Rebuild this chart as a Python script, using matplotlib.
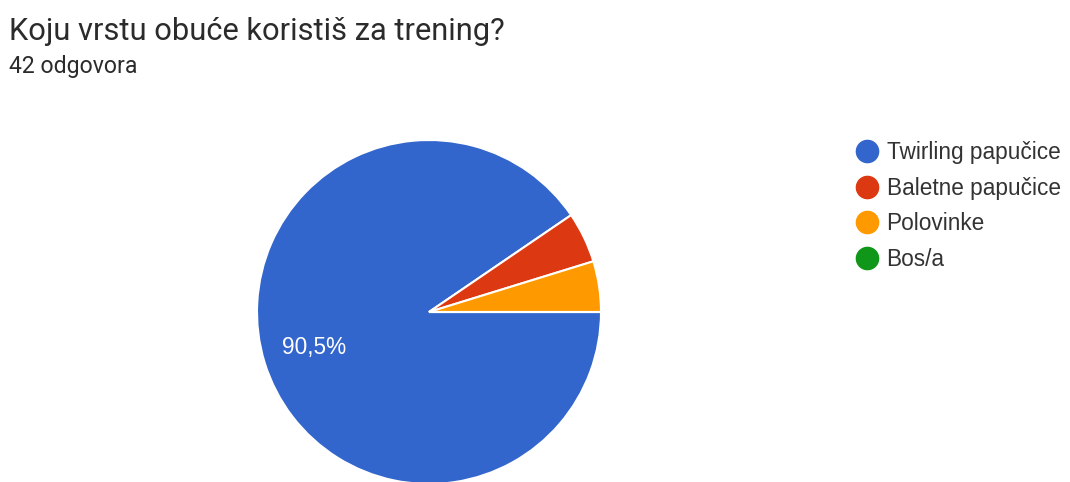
import matplotlib
matplotlib.use("Agg")
import matplotlib.pyplot as plt
from matplotlib.lines import Line2D

categories = ["Twirling papučice", "Baletne papučice", "Polovinke", "Bos/a"]
counts = [38, 2, 2, 0]
colors = ["#3366CC", "#DC3912", "#FF9900", "#109618"]
title = "Koju vrstu obuće koristiš za trening?"
subtitle = "42 odgovora"

plt.rcParams['font.family'] = ['Roboto', 'DejaVu Sans']

W, H = 1070, 482
fig = plt.figure(figsize=(W / 100, H / 100), dpi=100)
fig.patch.set_facecolor("white")

cx, cy, r = 429, 312, 172
ax = fig.add_axes([(cx - r) / W, (H - cy - r) / H, 2 * r / W, 2 * r / H])

def fmt(p):
    if p < 10:
        return ""
    return ("%.1f%%" % p).replace(".", ",")

wedges, texts, autotexts = ax.pie(
    counts, colors=colors, startangle=0, counterclock=False,
    autopct=fmt, pctdistance=0.7, radius=1.0,
    wedgeprops=dict(edgecolor="white", linewidth=1.5),
    textprops=dict(color="white", fontsize=16.3,
                   family=['Liberation Sans', 'DejaVu Sans']))
ax.set_xlim(-1, 1)
ax.set_ylim(-1, 1)
ax.set_aspect("equal")
ax.axis("off")

fig.text(9 / W, 1 - 31 / H, title, fontsize=22.2, color="#2b2b2b", va="center", ha="left")
fig.text(9 / W, 1 - 67 / H, subtitle, fontsize=16.6, color="#2b2b2b", va="center", ha="left")

handles = [Line2D([0], [0], marker="o", linestyle="none", markersize=16,
                  markerfacecolor=c, markeredgecolor=c) for c in colors]
leg = fig.legend(handles, categories, loc="upper left",
                 bbox_to_anchor=(856 / W, 1 - 141 / H), frameon=False,
                 prop=dict(family=['Liberation Sans', 'DejaVu Sans'], size=16.3),
                 labelspacing=0.56, handletextpad=0.35,
                 handlelength=1.0, borderaxespad=0, borderpad=0)
for t in leg.get_texts():
    t.set_color("#333333")

fig.savefig("out.png", dpi=100, facecolor="white")
